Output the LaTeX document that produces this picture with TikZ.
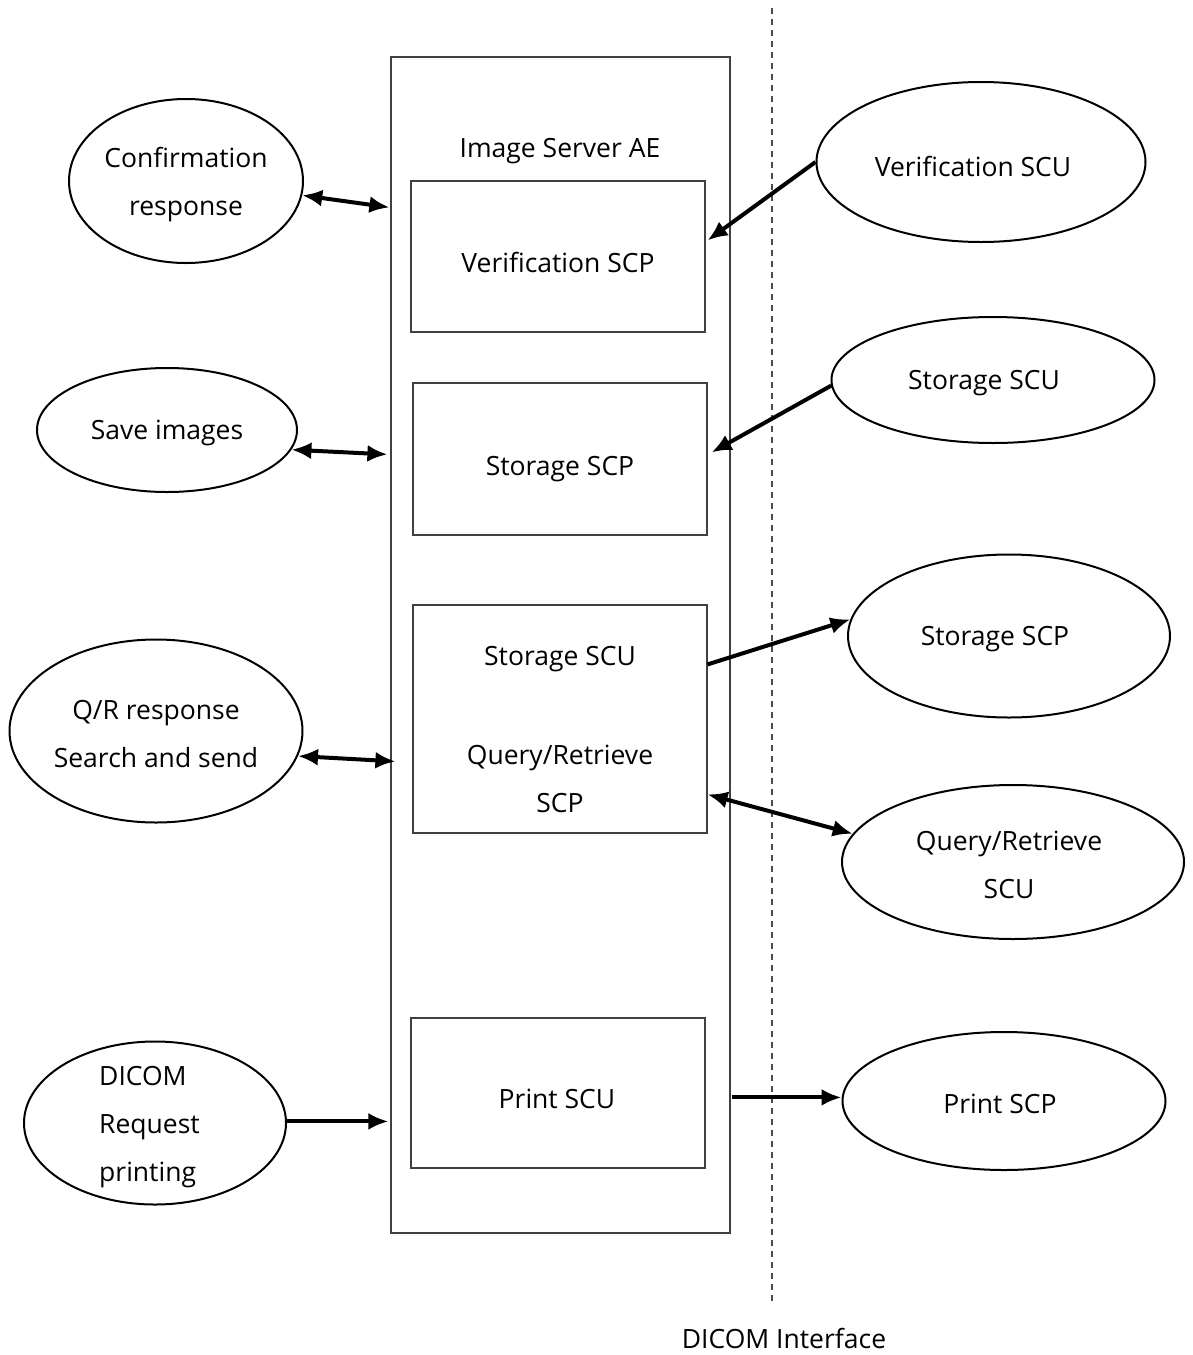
\documentclass[tikz,border=0pt]{standalone}
\usepackage{fontspec}
\setmainfont{Open Sans}
\usetikzlibrary{shapes.geometric,arrows.meta,calc}
\begin{document}
\begin{tikzpicture}[x=1pt,y=-1pt,
  every node/.style={inner sep=0pt},
  txt/.style={font=\fontsize{26.5}{48}\selectfont, align=center, yshift=-3pt},
  box/.style={draw=black!75, line width=1.2pt, rectangle},
  ell/.style={draw=black, line width=2pt, ellipse},
  arr/.style={line width=4pt, -{Latex[length=20pt,width=17pt]}},
  darr/.style={line width=4pt, {Latex[length=20pt,width=17pt]}-{Latex[length=20pt,width=17pt]}}]
\useasboundingbox (0,0) rectangle (1192,1355);
% interface line
\coordinate (dtop) at (772,8);
\coordinate (dbot) at (772,1302);
\draw[black!70, line width=1.5pt, dash pattern=on 6pt off 5pt] (dtop) -- (dbot);
\node[txt] (iface) at (784,1335) {DICOM Interface};
% main box
\node[box, minimum width=339pt, minimum height=1176pt] (main) at (560.5,645) {};
\node[txt] (title) at (560,148) {Image Server AE};
% inner boxes
\node[box, minimum width=294pt, minimum height=151pt] (vscp) at (558,256.5) {};
\node[txt] (vscpt) at (558,259) {Verification SCP};
\node[box, minimum width=294pt, minimum height=152pt] (sscp) at (560,459) {};
\node[txt] (sscpt) at (560,466) {Storage SCP};
\node[box, minimum width=294pt, minimum height=228pt] (qr) at (560,719) {};
\node[txt] (qrt1) at (560,656) {Storage SCU};
\node[txt] (qrt2) at (560,776) {Query/Retrieve\\SCP};
\node[box, minimum width=294pt, minimum height=150pt] (pscu) at (558,1093) {};
\node[txt] (pscut) at (557,1096) {Print SCU};
% left ellipses
\node[ell, minimum width=234pt, minimum height=164pt] (conf) at (186,181) {};
\node[txt] (conft) at (186,182) {Confirmation\\response};
\node[ell, minimum width=260pt, minimum height=124pt] (save) at (167,430) {};
\node[txt] (savet) at (167,430) {Save images};
\node[ell, minimum width=293pt, minimum height=183pt] (qrr) at (156,731) {};
\node[txt] (qrrt) at (156,731) {Q/R response\\Search and send};
\node[ell, minimum width=262pt, minimum height=163pt] (dreq) at (155,1123) {};
\node[txt, align=left, anchor=west] (dreqt) at (99,1124) {DICOM\\Request\\printing};
% right ellipses
\node[ell, minimum width=329pt, minimum height=160pt] (vscu) at (981,162) {};
\node[txt] (vscut) at (973,163) {Verification SCU};
\node[ell, minimum width=323pt, minimum height=126pt] (sscu) at (993,380) {};
\node[txt] (sscut) at (984,380) {Storage SCU};
\node[ell, minimum width=322pt, minimum height=163pt] (sscpe) at (1009,636) {};
\node[txt] (sscpet) at (995,636) {Storage SCP};
\node[ell, minimum width=342pt, minimum height=154pt] (qrscu) at (1013,862) {};
\node[txt] (qrscut) at (1009,862) {Query/Retrieve\\SCU};
\node[ell, minimum width=323pt, minimum height=138pt] (pscp) at (1004,1101) {};
\node[txt] (pscpt) at (1000,1101) {Print SCP};
% attachment points
\path (main.north west) ++(-1,151) coordinate (m1);
\path (main.north west) ++(-3,398) coordinate (m2);
\path (main.north west) ++(5,705) coordinate (m3);
\path (main.north west) ++(-2,1065) coordinate (m4);
\path (main.north east) ++(1,1041) coordinate (m5);
\path (vscp.north east) ++(2,60) coordinate (v1);
\path (sscp.north east) ++(4,70) coordinate (s1);
\path (qr.north east) ++(0,60) coordinate (q1);
\path (qr.north east) ++(0,190) coordinate (q2);
% connectors
\draw[darr] (conf.-7) -- (m1);
\draw[darr] (save.-9) -- (m2);
\draw[darr] (qrr.-10) -- (m3);
\draw[arr] (m4 -| dreq.east) -- (m4);
\draw[arr] (vscu.180) -- (v1);
\draw[arr] (sscu.182) -- (s1);
\draw[arr] (q1) -- (sscpe.174);
\draw[darr] (q2) -- (qrscu.170);
\draw[arr] (m5) -- (m5 -| pscp.west);
\end{tikzpicture}
\end{document}
